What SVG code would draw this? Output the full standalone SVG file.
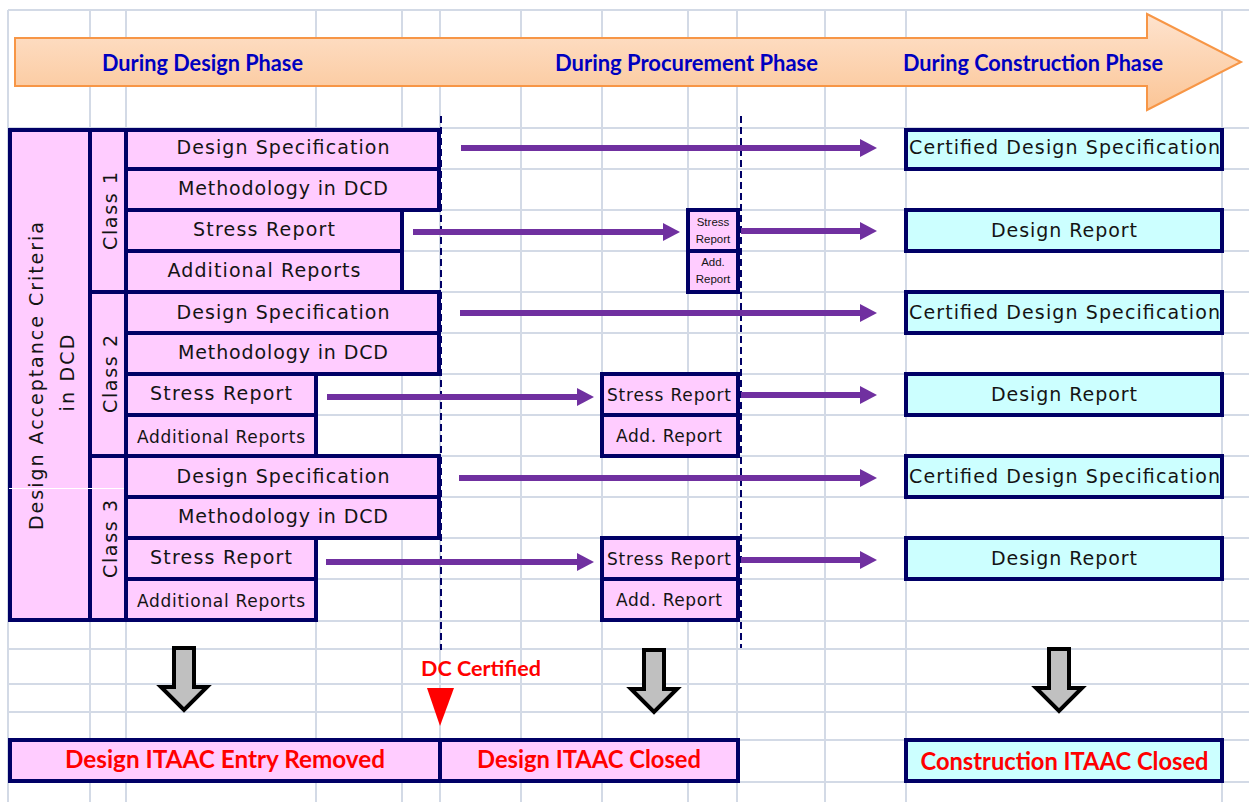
<svg xmlns="http://www.w3.org/2000/svg" width="1249" height="802" viewBox="0 0 1249 802">
  <defs>
    <linearGradient id="phaseFill" x1="0" y1="0" x2="0" y2="1">
      <stop offset="0" stop-color="#fee3ce"/>
      <stop offset="1" stop-color="#fbc596"/>
    </linearGradient>
    <marker id="head" viewBox="0 0 17 18" refX="0" refY="9" markerWidth="17" markerHeight="18" markerUnits="userSpaceOnUse" orient="auto">
      <path d="M0,0 L17,9 L0,18 Z" fill="#7030a0"/>
    </marker>
    <style>
      .grid { stroke: #d3dae6; stroke-width: 2; fill: none; }
      .cell { fill: #ffccff; stroke: #000066; stroke-width: 4; }
      .out { fill: #ccffff; stroke: #000066; stroke-width: 4; }
      .phase { font-family: Lato, "Liberation Sans", sans-serif; font-weight: bold; font-size: 22px; fill: #0000c0; text-anchor: middle; }
      .lbl { font-family: "DejaVu Sans", Verdana, sans-serif; font-size: 19px; fill: #141414; text-anchor: middle; }
      .lbs { font-family: "DejaVu Sans", Verdana, sans-serif; font-size: 17px; fill: #141414; text-anchor: middle; }
      .tiny { font-family: "Liberation Sans", Arial, sans-serif; font-size: 11.5px; fill: #141414; text-anchor: middle; }
      .red { font-family: Lato, "Liberation Sans", sans-serif; font-weight: bold; font-size: 24px; fill: #ff0000; text-anchor: middle; }
      .flow { stroke: #7030a0; stroke-width: 6; fill: none; marker-end: url(#head); }
      .dash { stroke: #000066; stroke-width: 2; stroke-dasharray: 7 4; fill: none; }
      .down { fill: #c0c0c0; stroke: #000000; stroke-width: 4; stroke-linejoin: miter; }
    </style>
  </defs>

  <rect x="0" y="0" width="1249" height="802" fill="#ffffff"/>

  <!-- worksheet grid -->
  <g id="grid">
    <path class="grid" d="M8,10 V802 M90,10 V802 M126,10 V802 M316,10 V802 M402,10 V802 M440,10 V802 M521,10 V802 M602,10 V802 M688,10 V802 M737,10 V802 M825,10 V802 M906,10 V802 M1222,10 V802"/>
    <path class="grid" d="M8,10 H1249 M8,128 H1249 M8,169 H1249 M8,210 H1249 M8,251 H1249 M8,292 H1249 M8,333 H1249 M8,374 H1249 M8,415 H1249 M8,456 H1249 M8,497 H1249 M8,538 H1249 M8,579 H1249 M8,621 H1249 M8,649 H1249 M8,684 H1249 M8,712 H1249 M8,740 H1249 M8,782 H1249"/>
  </g>

  <!-- phase banner -->
  <g id="phases">
    <path d="M15,38 H1147 V14 L1241,62 L1147,110 V86 H15 Z" fill="url(#phaseFill)" stroke="#f79646" stroke-width="2"/>
    <text class="phase" x="202.5" y="71" textLength="201" lengthAdjust="spacingAndGlyphs">During Design Phase</text>
    <text class="phase" x="686.5" y="71" textLength="263" lengthAdjust="spacingAndGlyphs">During Procurement Phase</text>
    <text class="phase" x="1033" y="71" textLength="260" lengthAdjust="spacingAndGlyphs">During Construction Phase</text>
  </g>

  <!-- acceptance criteria column -->
  <g id="criteria">
    <rect class="cell" x="10" y="130" width="80" height="490"/>
    <text class="lbl" transform="translate(43,376) rotate(-90)" textLength="308">Design Acceptance Criteria</text>
    <text class="lbl" transform="translate(74,373) rotate(-90)" textLength="77">in DCD</text>
  </g>

  <g id="class1">
    <rect class="cell" x="90" y="130" width="36" height="162"/>
    <text class="lbl" transform="translate(117,211) rotate(-90)" textLength="78">Class 1</text>
  </g>
  <g id="class2">
    <rect class="cell" x="90" y="292" width="36" height="164"/>
    <text class="lbl" transform="translate(117,374) rotate(-90)" textLength="78">Class 2</text>
  </g>
  <g id="class3">
    <rect class="cell" x="90" y="456" width="36" height="164"/>
    <text class="lbl" transform="translate(117,539) rotate(-90)" textLength="78">Class 3</text>
  </g>
  <line x1="9" y1="488.5" x2="125" y2="488.5" stroke="#ffffff" stroke-width="1"/>

  <!-- class 1 documents -->
  <g id="c1-spec">
    <rect class="cell" x="126" y="130" width="313" height="39"/>
    <text class="lbl" x="283" y="154" textLength="213">Design Specification</text>
  </g>
  <g id="c1-method">
    <rect class="cell" x="126" y="169" width="313" height="41"/>
    <text class="lbl" x="283" y="195" textLength="210">Methodology in DCD</text>
  </g>
  <g id="c1-stress">
    <rect class="cell" x="126" y="210" width="276" height="41"/>
    <text class="lbl" x="264" y="236" textLength="142">Stress Report</text>
  </g>
  <g id="c1-add">
    <rect class="cell" x="126" y="251" width="276" height="41"/>
    <text class="lbl" x="264" y="277" textLength="193">Additional Reports</text>
  </g>

  <!-- class 2 documents -->
  <g id="c2-spec">
    <rect class="cell" x="126" y="292" width="313" height="41"/>
    <text class="lbl" x="283" y="319" textLength="213">Design Specification</text>
  </g>
  <g id="c2-method">
    <rect class="cell" x="126" y="333" width="313" height="41"/>
    <text class="lbl" x="283" y="359" textLength="210">Methodology in DCD</text>
  </g>
  <g id="c2-stress">
    <rect class="cell" x="126" y="374" width="190" height="41"/>
    <text class="lbl" x="221" y="400" textLength="142">Stress Report</text>
  </g>
  <g id="c2-add">
    <rect class="cell" x="126" y="415" width="190" height="41"/>
    <text class="lbs" x="221" y="443" textLength="168">Additional Reports</text>
  </g>

  <!-- class 3 documents -->
  <g id="c3-spec">
    <rect class="cell" x="126" y="456" width="313" height="41"/>
    <text class="lbl" x="283" y="483" textLength="213">Design Specification</text>
  </g>
  <g id="c3-method">
    <rect class="cell" x="126" y="497" width="313" height="41"/>
    <text class="lbl" x="283" y="523" textLength="210">Methodology in DCD</text>
  </g>
  <g id="c3-stress">
    <rect class="cell" x="126" y="538" width="190" height="41"/>
    <text class="lbl" x="221" y="564" textLength="142">Stress Report</text>
  </g>
  <g id="c3-add">
    <rect class="cell" x="126" y="579" width="190" height="41"/>
    <text class="lbs" x="221" y="607" textLength="168">Additional Reports</text>
  </g>

  <!-- procurement-phase documents -->
  <g id="p1-stress">
    <rect class="cell" x="688" y="210" width="50" height="41"/>
    <text class="tiny" x="713" y="226">Stress</text>
    <text class="tiny" x="713" y="243">Report</text>
  </g>
  <g id="p1-add">
    <rect class="cell" x="688" y="251" width="50" height="41"/>
    <text class="tiny" x="713" y="266">Add.</text>
    <text class="tiny" x="713" y="283">Report</text>
  </g>
  <g id="p2-stress">
    <rect class="cell" x="602" y="374" width="136" height="41"/>
    <text class="lbs" x="669" y="401" textLength="124">Stress Report</text>
  </g>
  <g id="p2-add">
    <rect class="cell" x="602" y="415" width="136" height="41"/>
    <text class="lbs" x="669" y="442" textLength="106">Add. Report</text>
  </g>
  <g id="p3-stress">
    <rect class="cell" x="602" y="538" width="136" height="41"/>
    <text class="lbs" x="669" y="565" textLength="124">Stress Report</text>
  </g>
  <g id="p3-add">
    <rect class="cell" x="602" y="579" width="136" height="41"/>
    <text class="lbs" x="669" y="606" textLength="106">Add. Report</text>
  </g>

  <!-- construction-phase outputs -->
  <g id="k1-spec">
    <rect class="out" x="906" y="130" width="316" height="39"/>
    <text class="lbl" x="1064.5" y="154" textLength="311">Certified Design Specification</text>
  </g>
  <g id="k1-report">
    <rect class="out" x="906" y="210" width="316" height="41"/>
    <text class="lbl" x="1064" y="237" textLength="146">Design Report</text>
  </g>
  <g id="k2-spec">
    <rect class="out" x="906" y="292" width="316" height="41"/>
    <text class="lbl" x="1064.5" y="319" textLength="311">Certified Design Specification</text>
  </g>
  <g id="k2-report">
    <rect class="out" x="906" y="374" width="316" height="41"/>
    <text class="lbl" x="1064" y="401" textLength="146">Design Report</text>
  </g>
  <g id="k3-spec">
    <rect class="out" x="906" y="456" width="316" height="41"/>
    <text class="lbl" x="1064.5" y="483" textLength="311">Certified Design Specification</text>
  </g>
  <g id="k3-report">
    <rect class="out" x="906" y="538" width="316" height="41"/>
    <text class="lbl" x="1064" y="565" textLength="146">Design Report</text>
  </g>

  <!-- phase boundaries -->
  <g id="boundaries">
    <line class="dash" x1="441" y1="116" x2="441" y2="650"/>
    <line class="dash" x1="741" y1="116" x2="741" y2="648"/>
  </g>

  <!-- document flow -->
  <g id="connectors">
    <line class="flow" x1="461" y1="148" x2="860" y2="148"/>
    <line class="flow" x1="413" y1="232" x2="663" y2="232"/>
    <line class="flow" x1="741" y1="231" x2="860" y2="231"/>
    <line class="flow" x1="460" y1="313" x2="860" y2="313"/>
    <line class="flow" x1="327" y1="397" x2="577" y2="397"/>
    <line class="flow" x1="741" y1="395" x2="860" y2="395"/>
    <line class="flow" x1="459" y1="478" x2="860" y2="478"/>
    <line class="flow" x1="326" y1="562" x2="577" y2="562"/>
    <line class="flow" x1="741" y1="560" x2="860" y2="560"/>
    <path class="down" d="M174,648 H194 V687 H207 L184,710 L161,687 H174 Z"/>
    <path class="down" d="M644,650 H664 V689 H677 L654,712 L631,689 H644 Z"/>
    <path class="down" d="M1049,649 H1069 V688 H1082 L1059,711 L1036,688 H1049 Z"/>
  </g>

  <!-- certification milestone -->
  <g id="dc-certified">
    <text class="red" x="481" y="676" font-size="20" textLength="120" lengthAdjust="spacingAndGlyphs" style="font-size:20px">DC Certified</text>
    <path d="M427,688 H454 L440,726 Z" fill="#ff0000"/>
  </g>

  <!-- ITAAC outcomes -->
  <g id="itaac-removed">
    <rect class="cell" x="10" y="740" width="430" height="41"/>
    <text class="red" x="225" y="768" textLength="320" lengthAdjust="spacingAndGlyphs">Design ITAAC Entry Removed</text>
  </g>
  <g id="itaac-closed">
    <rect class="cell" x="440" y="740" width="298" height="41"/>
    <text class="red" x="589" y="768" textLength="224" lengthAdjust="spacingAndGlyphs">Design ITAAC Closed</text>
  </g>
  <g id="itaac-construction">
    <rect class="out" x="906" y="740" width="316" height="41"/>
    <text class="red" x="1064.5" y="770" textLength="288" lengthAdjust="spacingAndGlyphs">Construction ITAAC Closed</text>
  </g>
</svg>
